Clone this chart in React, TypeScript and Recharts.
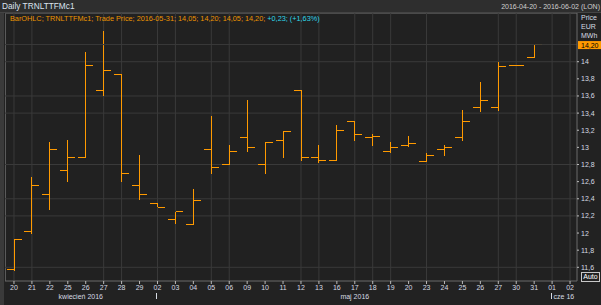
import React from 'react';
import { ComposedChart, Bar, XAxis, YAxis, CartesianGrid, ReferenceLine } from 'recharts';

const dates = [
  '2016-04-20', '2016-04-21', '2016-04-22', '2016-04-25', '2016-04-26', '2016-04-27', '2016-04-28', '2016-04-29',
  '2016-05-02', '2016-05-03', '2016-05-04', '2016-05-05', '2016-05-06', '2016-05-09', '2016-05-10', '2016-05-11',
  '2016-05-12', '2016-05-13', '2016-05-16', '2016-05-17', '2016-05-18', '2016-05-19', '2016-05-20', '2016-05-23',
  '2016-05-24', '2016-05-25', '2016-05-26', '2016-05-27', '2016-05-30', '2016-05-31', '2016-06-01', '2016-06-02',
];
const opens = [11.57, 12.02, 12.45, 12.73, 12.88, 13.66, 13.85, 12.56, 12.35, 12.16, 12.10, 12.98, 12.80, 13.11, 12.80, 13.08,
  13.66, 12.88, 12.85, 13.30, 13.11, 12.95, 13.02, 12.83, 12.98, 13.11, 13.46, 13.46, 13.96, 14.05];
const highs = [11.93, 12.65, 13.06, 13.09, 14.11, 14.36, 13.85, 12.91, 12.35, 12.25, 12.51, 13.37, 13.03, 13.55, 13.06, 13.19,
  13.67, 13.03, 13.26, 13.30, 13.16, 13.06, 13.13, 12.93, 13.03, 13.44, 13.76, 14.00, 13.96, 14.20];
const lows = [11.56, 11.99, 12.27, 12.60, 12.88, 13.60, 12.60, 12.38, 12.30, 12.10, 12.10, 12.69, 12.80, 12.95, 12.69, 12.88,
  12.84, 12.82, 12.85, 13.07, 13.02, 12.93, 13.00, 12.83, 12.90, 13.07, 13.41, 13.43, 13.96, 14.05];
const closes = [11.93, 12.56, 12.98, 12.88, 13.96, 13.90, 12.69, 12.45, 12.30, 12.25, 12.38, 12.76, 12.95, 13.00, 13.06, 13.19,
  12.88, 12.85, 13.20, 13.15, 13.13, 13.00, 13.05, 12.91, 13.00, 13.30, 13.55, 13.94, 13.96, 14.20];

const yTicks = [11.6, 11.8, 12, 12.2, 12.4, 12.6, 12.8, 13, 13.2, 13.4, 13.6, 13.8, 14];
const gridPrices = [11.6, 12.2, 12.4, 12.8, 13.4, 13.6, 14];
const gridDates = ['2016-04-20', '2016-04-21', '2016-04-27', '2016-04-28', '2016-05-02', '2016-05-03', '2016-05-05',
  '2016-05-06', '2016-05-12', '2016-05-13', '2016-05-17', '2016-05-18', '2016-05-19', '2016-05-23', '2016-05-27',
  '2016-05-30', '2016-06-01', '2016-06-02'];
const monthLabels = [
  { date: '2016-04-25', text: 'kwiecień 2016' },
  { date: '2016-05-17', text: 'maj 2016' },
  { date: '2016-06-01', text: 'cze 16' },
];
const monthStarts = ['2016-05-02', '2016-06-01'];
const lastClose = 14.2;
const legendMain = 'BarOHLC; TRNLTTFMc1; Trade Price; 2016-05-31; 14,05; 14,20; 14,05; 14,20;';
const legendChange = '+0,23; (+1,63%)';
const title = 'Daily TRNLTTFMc1';
const rangeText = '2016-04-20 - 2016-06-02 (LON)';

const data = dates.map((d, i) => ({
  date: d,
  open: opens[i] ?? null,
  high: highs[i] ?? null,
  low: lows[i] ?? null,
  close: closes[i] ?? null,
}));

const ORANGE = '#ff9a00';
const GRID = '#3a3a3a';
const FONT = '"Liberation Sans", Arial, sans-serif';

const fmt = (v: number) => {
  const r = Math.round(v * 10) / 10;
  return Number.isInteger(r) ? String(r) : r.toFixed(1).replace('.', ',');
};

const OHLCShape = (props: any) => {
  const { x, y, width, height } = props;
  const p = props.payload || props;
  if (p == null || p.high == null || x == null) return null;
  const cx = Math.round(x + width / 2) + 0.5;
  const range = p.high - p.low;
  const yOpen = range > 0 ? y + ((p.high - p.open) / range) * height : y;
  const yClose = range > 0 ? y + ((p.high - p.close) / range) * height : y;
  const half = width / 2;
  return (
    <g stroke={ORANGE} strokeWidth={1} shapeRendering="crispEdges">
      <line x1={cx} x2={cx} y1={y} y2={y + height} />
      <line x1={cx - half} x2={cx} y1={yOpen} y2={yOpen} />
      <line x1={cx} x2={cx + half} y1={yClose} y2={yClose} />
    </g>
  );
};

const XTick = (props: any) => {
  const { x, y, payload } = props;
  const d: string = payload.value;
  const month = monthLabels.find((m) => m.date === d);
  const isStart = monthStarts.includes(d);
  const isJune = d === '2016-06-01';
  return (
    <g fontFamily={FONT} fontSize={7} fill="#d6dbe3">
      <text x={x} y={y + 6} textAnchor="middle">{d.slice(8)}</text>
      {isStart && (
        <line x1={x - 1} x2={x - 1} y1={y + 9} y2={y + 15} stroke="#d6dbe3" strokeWidth={1} shapeRendering="crispEdges" />
      )}
      {month && (
        <text x={isJune ? x + 1.5 : d === '2016-04-25' ? x + 13 : x} y={y + 14.5} textAnchor={isJune ? 'start' : 'middle'}>
          {month.text}
        </text>
      )}
    </g>
  );
};

const YTick = (props: any) => {
  const { x, y, payload } = props;
  return (
    <text x={x + 1} y={y + 2.5} fontFamily={FONT} fontSize={7} fill="#d6dbe3" textAnchor="start">
      {fmt(payload.value)}
    </text>
  );
};

const PriceTag = (props: any) => {
  const vb = props.viewBox || {};
  const tx = vb.x + vb.width + 1;
  const ty = vb.y;
  return (
    <g>
      <rect x={tx} y={ty - 3.5} width={24} height={8} fill={ORANGE} />
      <text x={tx + 3} y={ty + 3} fontFamily={FONT} fontSize={7} fill="#000">{lastClose.toFixed(2).replace('.', ',')}</text>
    </g>
  );
};

export default function App() {
  return (
    <div style={{ position: 'fixed', left: 0, top: 0, width: 601, height: 305, background: '#222222', overflow: 'hidden', fontFamily: FONT }}>
      <div style={{ position: 'absolute', left: 0, top: 0, width: 601, height: 12, background: '#2e2e2e', borderBottom: '1px solid #444' }} />
      <div style={{ position: 'absolute', left: 0, top: 13, width: 4, height: 292, background: '#3a3a3a' }} />
      <div style={{ position: 'absolute', left: 5, top: 13, width: 572, height: 268, background: '#212121', borderLeft: '1px solid #5a5a5a', borderTop: '1px solid #4a4a4a', boxSizing: 'border-box' }} />
      <div style={{ position: 'absolute', left: 0, top: 0 }}>
        <ComposedChart width={601} height={305} data={data} margin={{ top: 13, right: 0, bottom: 0, left: 5 }} barSize={15}>
          <CartesianGrid stroke={GRID} horizontalValues={gridPrices} verticalValues={gridDates} />
          <XAxis
            dataKey="date"
            type="category"
            height={24}
            interval={0}
            tickSize={3}
            tickMargin={0}
            padding={{ left: 0, right: -2 }}
            axisLine={{ stroke: '#6a6a6a' }}
            tickLine={{ stroke: '#bbbbbb' }}
            tick={<XTick />}
          />
          <YAxis
            orientation="right"
            width={24}
            domain={[11.4402, 14.5685]}
            allowDataOverflow
            ticks={yTicks}
            interval={0}
            tickSize={2}
            tickMargin={1}
            axisLine={{ stroke: '#6a6a6a' }}
            tickLine={{ stroke: '#bbbbbb' }}
            tick={<YTick />}
          />
          <ReferenceLine y={lastClose} stroke={GRID} label={<PriceTag />} ifOverflow="visible" />
          <Bar
            dataKey={(d: any) => (d.low == null ? null : [d.low, d.high])}
            isAnimationActive={false}
            shape={<OHLCShape />}
          />
        </ComposedChart>
      </div>
      <div style={{ position: 'absolute', left: 2, top: 1, fontSize: 8.3, color: '#dbe3ef', lineHeight: '10px', whiteSpace: 'nowrap' }}>{title}</div>
      <div style={{ position: 'absolute', right: 1, top: 2, fontSize: 7, color: '#cfcfcf', lineHeight: '10px', whiteSpace: 'nowrap' }}>{rangeText}</div>
      <div style={{ position: 'absolute', left: 10, top: 14, fontSize: 7.3, lineHeight: '10px', whiteSpace: 'nowrap' }}>
        <span style={{ color: '#ec9400' }}>{legendMain} </span>
        <span style={{ color: '#2ed8ea' }}>{legendChange}</span>
      </div>
      <div style={{ position: 'absolute', left: 581, top: 13, fontSize: 7, lineHeight: '9px', color: '#d6dbe3', whiteSpace: 'nowrap' }}>
        Price<br />EUR<br />MWh
      </div>
      <div style={{ position: 'absolute', left: 581, top: 272, width: 17, height: 8, border: '1px solid #c8c8c8', fontSize: 7, lineHeight: '8px', color: '#ffffff', textAlign: 'center' }}>Auto</div>
    </div>
  );
}
